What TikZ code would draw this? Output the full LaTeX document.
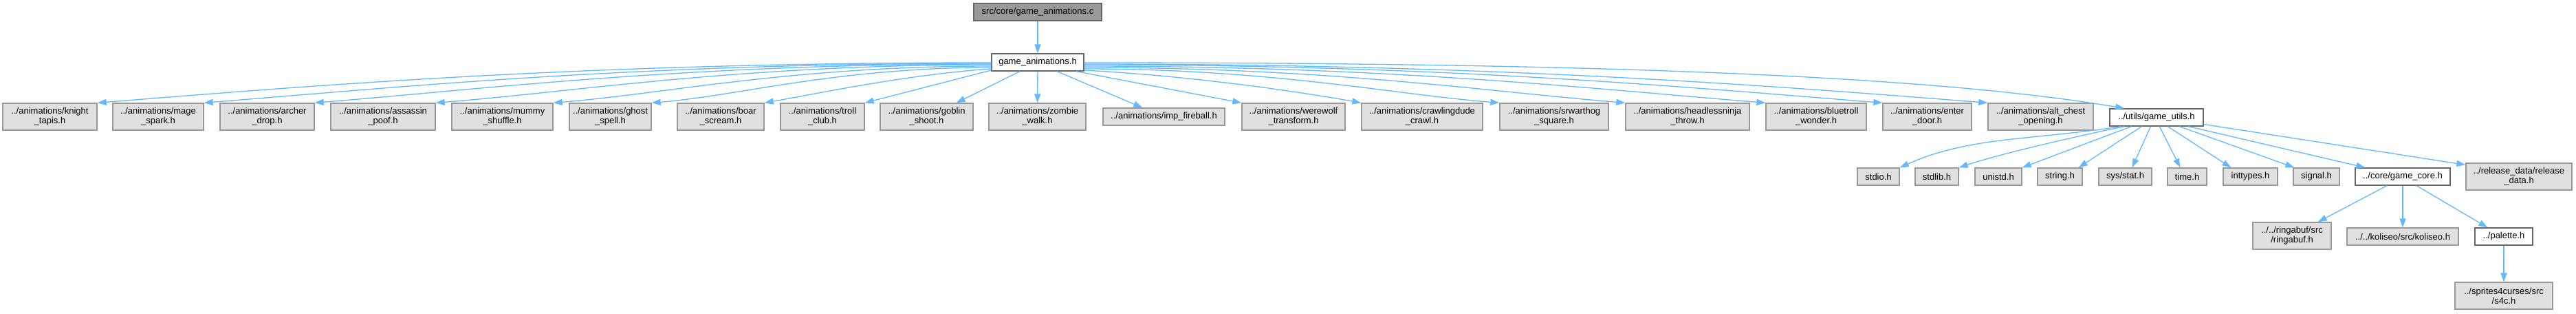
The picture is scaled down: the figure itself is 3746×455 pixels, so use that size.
\documentclass[tikz,border=0pt]{standalone}
\usepackage{fontspec}
\setmainfont{Liberation Sans}
\usetikzlibrary{arrows.meta,calc}
\definecolor{edgeblue}{HTML}{63B8FF}
\definecolor{boxgrey}{HTML}{E0E0E0}
\definecolor{bordergrey}{HTML}{999999}
\definecolor{darkborder}{HTML}{666666}
\definecolor{rootfill}{HTML}{999999}
\tikzset{
  basebox/.style={line width=1.3pt,inner sep=0pt,align=center,font=\fontsize{13}{14}\selectfont},
  gbox/.style={basebox,draw=bordergrey,fill=boxgrey},
  wbox/.style={basebox,draw=darkborder,fill=white},
  rbox/.style={basebox,draw=darkborder,fill=rootfill},
  one/.style={minimum height=25pt},
  two/.style={minimum height=39pt},
  edge/.style={draw=edgeblue,line width=1.3pt,-{Triangle[length=13pt,width=9pt]}}
}
\begin{document}
\begin{tikzpicture}[x=1pt,y=-1pt]
\useasboundingbox[fill=white] (0,0) rectangle (3746,455);
% level 0/1
\node[rbox,one,minimum width=186pt] (root) at (1509,17.5) {src/core/game\_animations.c};
\node[wbox,one,minimum width=134pt] (ga) at (1509,90.5) {game\_animations.h};
% level 2
\node[gbox,two,minimum width=137pt] (knight) at (72.5,169.5) {../animations/knight\\\_tapis.h};
\node[gbox,two,minimum width=132pt] (mage) at (230,169.5) {../animations/mage\\\_spark.h};
\node[gbox,two,minimum width=137pt] (archer) at (388.5,169.5) {../animations/archer\\\_drop.h};
\node[gbox,two,minimum width=152pt] (assassin) at (557,169.5) {../animations/assassin\\\_poof.h};
\node[gbox,two,minimum width=147pt] (mummy) at (730.5,169.5) {../animations/mummy\\\_shuffle.h};
\node[gbox,two,minimum width=119pt] (ghost) at (887.5,169.5) {../animations/ghost\\\_spell.h};
\node[gbox,two,minimum width=126pt] (boar) at (1048,169.5) {../animations/boar\\\_scream.h};
\node[gbox,two,minimum width=122pt] (troll) at (1196,169.5) {../animations/troll\\\_club.h};
\node[gbox,two,minimum width=135pt] (goblin) at (1347.5,169.5) {../animations/goblin\\\_shoot.h};
\node[gbox,two,minimum width=141pt] (zombie) at (1508.5,169.5) {../animations/zombie\\\_walk.h};
\node[gbox,one,minimum width=177pt] (imp) at (1692.5,169.5) {../animations/imp\_fireball.h};
\node[gbox,two,minimum width=150pt] (werewolf) at (1881,169.5) {../animations/werewolf\\\_transform.h};
\node[gbox,two,minimum width=176pt] (crawling) at (2068,169.5) {../animations/crawlingdude\\\_crawl.h};
\node[gbox,two,minimum width=158pt] (srwarthog) at (2260,169.5) {../animations/srwarthog\\\_square.h};
\node[gbox,two,minimum width=180pt] (ninja) at (2454,169.5) {../animations/headlessninja\\\_throw.h};
\node[gbox,two,minimum width=146pt] (bluetroll) at (2641,169.5) {../animations/bluetroll\\\_wonder.h};
\node[gbox,two,minimum width=129pt] (enter) at (2802.5,169.5) {../animations/enter\\\_door.h};
\node[gbox,two,minimum width=153pt] (chest) at (2967.5,169.5) {../animations/alt\_chest\\\_opening.h};
\node[wbox,one,minimum width=136pt] (gu) at (3136,170.5) {../utils/game\_utils.h};
% level 3
\node[gbox,one,minimum width=61pt] (stdio) at (2731.5,256.5) {stdio.h};
\node[gbox,one,minimum width=63pt] (stdlib) at (2816.5,256.5) {stdlib.h};
\node[gbox,one,minimum width=68pt] (unistd) at (2906,256.5) {unistd.h};
\node[gbox,one,minimum width=65pt] (string) at (2995.5,256.5) {string.h};
\node[gbox,one,minimum width=77pt] (sysstat) at (3090.5,256.5) {sys/stat.h};
\node[gbox,one,minimum width=57pt] (time) at (3180.5,256.5) {time.h};
\node[gbox,one,minimum width=79pt] (inttypes) at (3272.5,256.5) {inttypes.h};
\node[gbox,one,minimum width=67pt] (signal) at (3368.5,256.5) {signal.h};
\node[wbox,one,minimum width=138pt] (gc) at (3494,256.5) {../core/game\_core.h};
\node[gbox,two,minimum width=154pt] (release) at (3663,256.5) {../release\_data/release\\\_data.h};
% level 4
\node[gbox,two,minimum width=114pt] (ringabuf) at (3333,342.5) {../../ringabuf/src\\/ringabuf.h};
\node[gbox,one,minimum width=162pt] (koliseo) at (3494,343.5) {../../koliseo/src/koliseo.h};
\node[wbox,one,minimum width=84pt] (palette) at (3641,343.5) {../palette.h};
% level 5
\node[gbox,two,minimum width=142pt] (s4c) at (3641,429.5) {../sprites4curses/src\\/s4c.h};

% edges
\draw[edge] (root) -- (ga);
\draw[edge] ($(ga.west)+(0,0.5)$) .. controls +(-585,0) and +(325,-26) .. (knight.north east);
\draw[edge] ($(ga.west)+(0,1.5)$) .. controls +(-516,0) and +(287,-23) .. (mage.north east);
\draw[edge] ($(ga.west)+(0,2.5)$) .. controls +(-443,0) and +(246,-20) .. (archer.north east);
\draw[edge] ($(ga.west)+(0,3.5)$) .. controls +(-364,0) and +(202,-16) .. (assassin.north east);
\draw[edge] ($(ga.west)+(0,5.5)$) .. controls +(-287,0) and +(160,-13) .. (mummy.north east);
\draw[edge] ($(ga.west)+(0,7.5)$) .. controls +(-223,0) and +(124,-10) .. (ghost.north east);
\draw[edge] ($(ga.west)+(0,9.5)$) .. controls +(-120,8) and +(80,-14) .. (boar.north east);
\draw[edge] ($(ga.west)+(0,11.5)$) -- (troll.north east);
\draw[edge] ($(ga.south)+(-26,0)$) -- ($(goblin.north east)+(-25,0)$);
\draw[edge] (ga) -- (zombie);
\draw[edge] ($(ga.south)+(28,0)$) -- ($(imp.north west)+(58,0)$);
\draw[edge] ($(ga.south)+(56,0)$) -- (werewolf.north west);
\draw[edge] ($(ga.east)+(0,11.5)$) .. controls +(150,8) and +(-100,-18) .. (crawling.north west);
\draw[edge] ($(ga.east)+(0,9.5)$) .. controls +(272,0) and +(-151,-12) .. (srwarthog.north west);
\draw[edge] ($(ga.east)+(0,7.5)$) .. controls +(355,0) and +(-197,-16) .. (ninja.north west);
\draw[edge] ($(ga.east)+(0,5.5)$) .. controls +(446,0) and +(-248,-20) .. (bluetroll.north west);
\draw[edge] ($(ga.east)+(0,3.5)$) .. controls +(523,0) and +(-290,-23) .. (enter.north west);
\draw[edge] ($(ga.east)+(0,2.5)$) .. controls +(592,0) and +(-329,-26) .. (chest.north west);
\draw[edge] ($(ga.east)+(0,0.5)$) .. controls +(681,0) and +(-303,-51) .. ($(gu.north west)+(22,0)$);

\draw[edge] ($(gu.south west)+(17,0)$) .. controls +(-130,20) and +(100,-45) .. (stdio.north east);
\draw[edge] ($(gu.south west)+(22,0)$) .. controls +(-60,12) and +(60,-20) .. (stdlib.north east);
\draw[edge] ($(gu.south west)+(32,0)$) -- (unistd.north east);
\draw[edge] ($(gu.south west)+(47,0)$) -- ($(string.north east)+(-6,0)$);
\draw[edge] ($(gu.south west)+(60,0)$) -- ($(sysstat.north)+(10,0)$);
\draw[edge] ($(gu.south west)+(73,0)$) -- ($(time.north)+(-10,0)$);
\draw[edge] ($(gu.south west)+(85,0)$) -- ($(inttypes.north west)+(12,0)$);
\draw[edge] ($(gu.south west)+(102,0)$) -- ($(signal.north west)+(2,0)$);
\draw[edge] ($(gu.south west)+(115,0)$) -- ($(gc.north west)+(15,0)$);
\draw[edge] ($(gu.east)+(0,10)$) -- ($(release.north west)+(0,3)$);

\draw[edge] ($(gc.south)+(-23,0)$) -- ($(ringabuf.north east)+(-20,0)$);
\draw[edge] (gc) -- (koliseo);
\draw[edge] ($(gc.south)+(20,0)$) -- ($(palette.north west)+(19,0)$);
\draw[edge] (palette) -- (s4c);
\end{tikzpicture}
\end{document}
